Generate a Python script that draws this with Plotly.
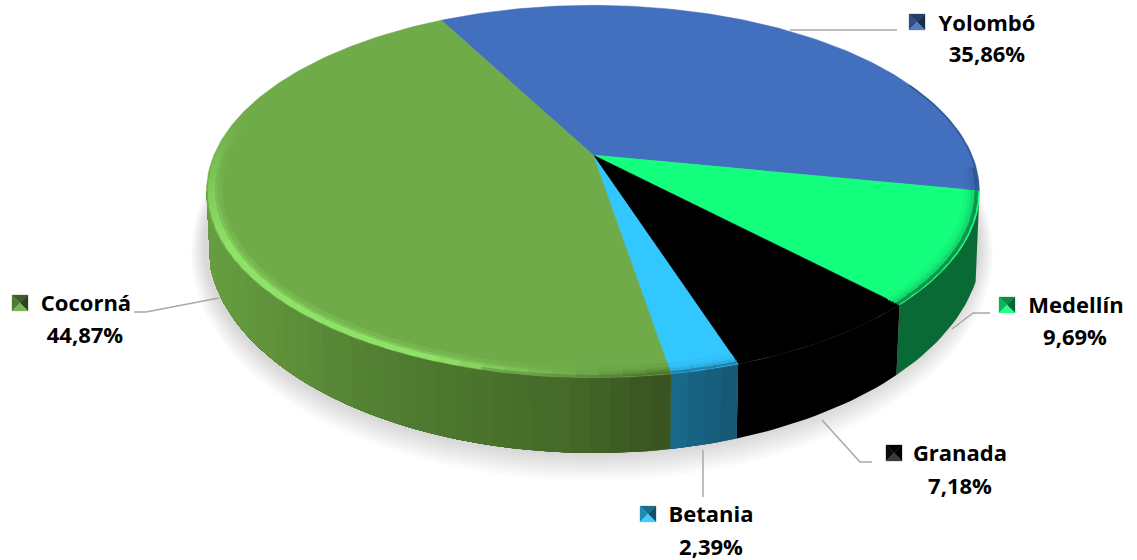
import math
import plotly.graph_objects as go

# ---- data ----
categories = ["Yolombó", "Medellín", "Granada", "Betania", "Cocorná"]
values = [35.86, 9.69, 7.18, 2.39, 44.87]
value_labels = ["35,86%", "9,69%", "7,18%", "2,39%", "44,87%"]
top_colors = ["#4270be", "#14ff7e", "#000000", "#33c7ff", "#6fab49"]

# ---- styles / geometry of the tilted pie ----
START = -118.0           # degrees clockwise from east on screen
AX, AY = 593.0, 155.0    # projected pie centre
C, B, K = 379.0, 179.0, 0.196
BOT_CX, BOT_CY, BOT_A, BOT_B = 595.0, 244.0, 387.0, 209.0
FONT = "Open Sans"


def hex2rgb(c):
    c = c.lstrip("#")
    return tuple(int(c[i:i + 2], 16) for i in (0, 2, 4))


def mix(c1, c2, t):
    t = min(1.0, max(0.0, t))
    a, b = hex2rgb(c1), hex2rgb(c2)
    return "#%02x%02x%02x" % tuple(round(a[i] + (b[i] - a[i]) * t) for i in range(3))


def proj(theta_deg, r=1.0):
    t = math.radians(theta_deg)
    x, y = r * math.cos(t), r * math.sin(t)
    d = 1 - K * y
    return AX + C * x / d, AY + B * y / d


def bottom(theta_deg):
    sx, _ = proj(theta_deg)
    x = 592.0 + (sx - 592.0) * 0.99
    v = max(0.0, 1 - ((x - BOT_CX) / BOT_A) ** 2)
    return x, BOT_CY + BOT_B * math.sqrt(v)


def frange(a, b, step):
    n = max(1, int(math.ceil((b - a) / step)))
    return [a + (b - a) * i / n for i in range(n + 1)]


def green_wall(x):
    stops = [(205, "#679e40"), (400, "#507c31"), (560, "#456a29"), (680, "#38501f")]
    for (x0, c0), (x1, c1) in zip(stops, stops[1:]):
        if x <= x1:
            return mix(c0, c1, (x - x0) / (x1 - x0))
    return stops[-1][1]


def wall_color(i, x):
    if i == 4:
        return green_wall(x)
    if i == 3:
        return mix("#1a6a8a", "#155673", (x - 672) / 66)
    return ["#2c4a85", "#0a6a36", "#000000"][i]


fig = go.Figure()


def poly(xs, ys, color, line=0.6):
    fig.add_trace(go.Scatter(x=xs, y=ys, mode="lines", fill="toself", fillcolor=color,
                             line=dict(color=color, width=line), hoverinfo="skip", showlegend=False))


def stroke(xs, ys, color, width):
    fig.add_trace(go.Scatter(x=xs, y=ys, mode="lines", line=dict(color=color, width=width),
                             hoverinfo="skip", showlegend=False))


# soft shadow under the disc
for d in range(26, 0, -2):
    ang = frange(0, 360, 4)
    xs = [BOT_CX - 3 + (BOT_A + d * 0.55) * math.cos(math.radians(a)) for a in ang]
    ys = [BOT_CY + d * 0.35 + (BOT_B + d * 0.72) * math.sin(math.radians(a)) for a in ang]
    poly(xs, ys, "rgba(90,90,90,0.018)", line=0)

# slice angle spans, from the values
total = sum(values)
spans = []
a = START
for v in values:
    spans.append((a, a + v / total * 360))
    a += v / total * 360

VIS0, VIS1 = 10.9, 169.0
# side wall: one base shape per slice, then overlapping strips for the gradient
for i, (a0, a1) in enumerate(spans):
    for shift in (0, 360):
        lo, hi = max(a0 + shift, VIS0), min(a1 + shift, VIS1)
        if hi <= lo:
            continue
        th = frange(lo, hi, 1.5)
        ptop = [proj(t) for t in th]
        pbot = [bottom(t) for t in reversed(th)]
        poly([p[0] for p in ptop + pbot], [p[1] for p in ptop + pbot],
             wall_color(i, (ptop[0][0] + ptop[-1][0]) / 2), line=0)
        if i in (2, 1):
            continue
        # strips run from right to left; each reaches over the next one's start
        coarse = frange(lo, hi, 2.5)
        for t0 in coarse[:-1]:
            t1 = hi
            tm = t0 + 1.25
            seg = frange(t0, t1, 1.5)
            pa = [proj(t) for t in seg]
            pb = [bottom(t) for t in reversed(seg)]
            poly([p[0] for p in pa + pb], [p[1] for p in pa + pb],
                 wall_color(i, proj(tm)[0]), line=0)

# top faces
for i, (a0, a1) in enumerate(spans):
    pts = [proj(t) for t in frange(a0, a1, 1.0)]
    poly([AX] + [p[0] for p in pts] + [AX], [AY] + [p[1] for p in pts] + [AY], top_colors[i], line=0.5)

# bevel along the front rim
for i, (a0, a1) in enumerate(spans):
    if i == 2:
        continue
    for shift in (0, 360):
        lo, hi = max(a0 + shift, 4.0), min(a1 + shift, 192.0)
        if hi <= lo:
            continue
        th = frange(lo, hi, 3.0)
        for t0, t1 in zip(th, th[1:]):
            tm = (t0 + t1) / 2
            xm = proj(tm)[0]
            wall = wall_color(i, min(xm, 680)) if tm <= VIS1 else top_colors[i]
            if i == 4:
                f = (xm - 430) / 220
                hi_c = mix("#8fe268", mix(top_colors[4], wall, 0.4), f)
                fade = (192 - tm) / 40
                hi_c = mix(top_colors[4], hi_c, fade)
                outer = mix(hi_c, wall, 0.35 if f > 0.2 else 0.0)
            else:
                hi_c = mix(top_colors[i], wall, 0.25)
                outer = mix(top_colors[i], wall, 0.7)
            te = min(t1 + 1.5, hi)
            for r, col in ((0.992, outer), (0.983, hi_c), (0.974, mix(top_colors[i], hi_c, 0.5)),
                           (0.966, mix(top_colors[i], hi_c, 0.2))):
                pts = [proj(t, r) for t in frange(t0, te, 1.5)]
                stroke([p[0] for p in pts], [p[1] for p in pts], col, 4)

# dark hairline on the blue right edge
pts = [proj(t, 0.997) for t in frange(-25, spans[0][1], 2.0)]
stroke([p[0] for p in pts], [p[1] for p in pts], "#35598f", 1.5)

# leader lines
leaders = [([790, 897], [30, 30]),
           ([952, 973, 990], [329, 313, 313]),
           ([822, 860, 872], [420, 462, 462]),
           ([703, 703], [450, 497]),
           ([134, 146, 219], [312, 312, 298])]
for lx, ly in leaders:
    stroke(lx, ly, "#a8a8a8", 1.5)

# label texts and legend keys
key_centers = [(917, 22), (1007, 305), (894, 453), (648, 514), (20, 303)]
name_centers = [(987, 25), (1076, 307), (960, 455), (711, 516), (86, 305)]
value_centers = [(987, 56), (1075, 339), (960, 488), (711, 549), (85, 337)]
H = 8
for i, (kx, ky) in enumerate(key_centers):
    base = top_colors[i]
    if i == 2:
        shades = ["#000000", "#0a0a0a", "#000000", "#3a3a3a"]
    else:
        shades = [mix(base, "#000000", 0.45), mix(base, "#000000", 0.3),
                  mix(base, "#000000", 0.6), mix(base, "#ffffff", 0.08)]
    corners = [(-H, -H), (H, -H), (H, H), (-H, H)]
    order = [(0, 1, shades[0]), (3, 0, shades[1]), (1, 2, shades[2]), (2, 3, shades[3])]
    for c0, c1, col in order:
        poly([kx + corners[c0][0], kx + corners[c1][0], kx, kx + corners[c0][0]],
             [ky + corners[c0][1], ky + corners[c1][1], ky, ky + corners[c0][1]], col, line=0.3)

for i in range(len(categories)):
    for (tx, ty), s in ((name_centers[i], categories[i]), (value_centers[i], value_labels[i])):
        fig.add_trace(go.Scatter(x=[tx], y=[ty], mode="text", text=["<b>%s</b>" % s],
                                 textposition="middle center",
                                 textfont=dict(family=FONT, size=22, color="#000000"),
                                 hoverinfo="skip", showlegend=False))

fig.update_layout(width=1137, height=560, margin=dict(l=0, r=0, t=0, b=0),
                  paper_bgcolor="#ffffff", plot_bgcolor="#ffffff", showlegend=False,
                  xaxis=dict(range=[0, 1137], visible=False, fixedrange=True),
                  yaxis=dict(range=[560, 0], visible=False, fixedrange=True))
fig.write_html("out.html", config={"displayModeBar": False},
               post_script="document.body.style.margin='0';document.body.style.overflow='hidden';")
